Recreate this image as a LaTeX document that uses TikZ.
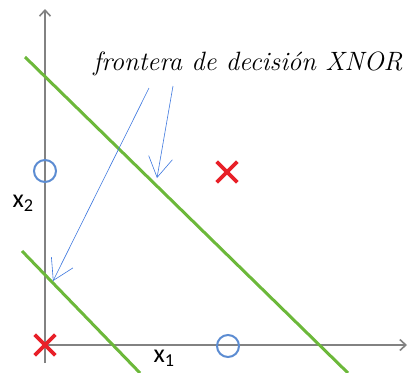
\documentclass[tikz,border=0pt]{standalone}
\usepackage{fontspec}
\newfontfamily\axisfont{Carlito}
\usepackage{tikz}
\usetikzlibrary{arrows.meta,shapes.misc}
\definecolor{boundgreen}{RGB}{108,184,58}
\definecolor{ptblue}{RGB}{92,140,210}
\definecolor{crossred}{RGB}{232,32,40}
\definecolor{axisgray}{RGB}{130,130,130}
\definecolor{pointerblue}{RGB}{60,118,222}

\begin{document}
\begin{tikzpicture}[
  x=1pt,y=-1pt,
  axis/.style={draw=axisgray,line width=2.8pt,
               -{Straight Barb[length=6pt,width=11pt,line width=1.6pt]}},
  boundary/.style={draw=boundgreen,line width=3pt},
  pointer/.style={draw=pointerblue,line width=0.6pt,
                  -{Straight Barb[length=20pt,width=24pt,line width=0.6pt]}},
  ocirc/.style={circle,draw=ptblue,line width=2pt,minimum size=22pt,inner sep=0pt},
  xmark/.style={cross out,draw=crossred,line width=3.6pt,minimum size=17pt,inner sep=0pt},
  axlabel/.style={font=\axisfont\fontsize{26}{28}\selectfont,inner sep=0pt}
]
\useasboundingbox (0,0) rectangle (408,373);

\coordinate (origin) at (45,345);
\coordinate (xend) at (407,345);
\coordinate (ybottom) at (45,363);
\coordinate (yend) at (45,9);
\draw[axis] (origin) -- (xend);
\draw[axis] (ybottom) -- (yend);

\coordinate (upperA) at (25,57);
\coordinate (upperB) at (348,373);
\coordinate (lowerA) at (22,251);
\coordinate (lowerB) at (140,373);
\draw[boundary] (upperA) -- (upperB);
\draw[boundary] (lowerA) -- (lowerB);

\node[ocirc] (o1) at (45,171) {};
\node[ocirc] (o2) at (228,346) {};
\node[xmark] (c1) at (45,345) {};
\node[xmark] (c2) at (227,172) {};

\node[axlabel] (x2lab) at (23,203) {x\textsubscript{2}};
\node[axlabel] (x1lab) at (164,358) {x\textsubscript{1}};

\node[font=\itshape\fontsize{26.5}{30}\selectfont,inner sep=0pt,anchor=base] (frontera) at (248,70) {frontera de decisión XNOR};
\coordinate (startA) at (149,88);
\coordinate (startB) at (173,86);
\coordinate (tipA) at (53,281);
\coordinate (tipB) at (157,178);
\draw[pointer] (startA) -- (tipA);
\draw[pointer] (startB) -- (tipB);
\end{tikzpicture}
\end{document}
